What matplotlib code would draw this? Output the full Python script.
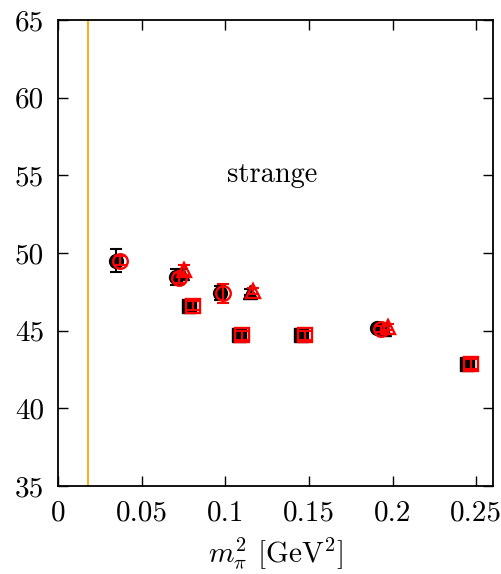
import matplotlib
matplotlib.use('Agg')
import matplotlib.pyplot as plt

plt.rcParams['font.family'] = 'serif'
plt.rcParams['font.serif'] = ['cmr10']
plt.rcParams['mathtext.fontset'] = 'cm'
plt.rcParams['axes.unicode_minus'] = False

# black filled (first set) and red open (second set)
circ_x_k = [0.0345, 0.0705, 0.0970, 0.1905]
circ_y_k = [49.50, 48.45, 47.40, 45.15]
circ_e_k = [0.75, 0.50, 0.45, 0.20]
circ_x_r = [0.0370, 0.0722, 0.0985, 0.1930]
circ_y_r = [49.50, 48.40, 47.40, 45.10]
circ_e_r = [0.30, 0.30, 0.60, 0.20]

sq_x_k = [0.0785, 0.1082, 0.1452, 0.2445]
sq_y_k = [46.60, 44.70, 44.70, 42.85]
sq_e_k = [0.30, 0.30, 0.30, 0.30]
sq_x_r = [0.0805, 0.1100, 0.1474, 0.2470]
sq_y_r = [46.60, 44.70, 44.70, 42.85]
sq_e_r = [0.30, 0.30, 0.30, 0.30]

tri_x_k = [0.0740, 0.1150, 0.1950]
tri_y_k = [48.70, 47.50, 45.10]
tri_e_k = [0.30, 0.20, 0.20]
tri_x_r = [0.0752, 0.1163, 0.1970]
tri_y_r = [48.90, 47.55, 45.25]
tri_e_r = [0.30, 0.20, 0.20]

phys_m2 = 0.018

xticks = [0, 0.05, 0.1, 0.15, 0.2, 0.25]
xtick_labels = ['0', '0.05', '0.1', '0.15', '0.2', '0.25']
yticks = [35, 40, 45, 50, 55, 60, 65]

fig = plt.figure(figsize=(5.02, 5.74), dpi=100)
ax = fig.add_axes([58 / 502, 1 - 486 / 574, (493 - 58) / 502, (486 - 20) / 574])

ax.axvline(phys_m2, color='#ffa500', lw=1.3, zorder=1)

kw_k = dict(fmt='none', ecolor='black', elinewidth=1.5, capsize=4, capthick=1.5, zorder=2)
kw_r = dict(fmt='none', ecolor='red', elinewidth=1.5, capsize=4, capthick=1.5, zorder=4)

ax.errorbar(circ_x_k, circ_y_k, yerr=circ_e_k, **kw_k)
ax.errorbar(sq_x_k, sq_y_k, yerr=sq_e_k, **kw_k)
ax.errorbar(tri_x_k, tri_y_k, yerr=tri_e_k, **kw_k)
ax.plot(circ_x_k, circ_y_k, 'o', color='black', ms=10, zorder=3, ls='none')
ax.plot(sq_x_k, sq_y_k, 's', color='black', ms=10, zorder=3, ls='none')
ax.plot(tri_x_k, tri_y_k, '^', color='black', ms=10, zorder=3, ls='none')

ax.errorbar(circ_x_r, circ_y_r, yerr=circ_e_r, **kw_r)
ax.errorbar(sq_x_r, sq_y_r, yerr=sq_e_r, **kw_r)
ax.errorbar(tri_x_r, tri_y_r, yerr=tri_e_r, **kw_r)
ax.plot(circ_x_r, circ_y_r, 'o', mfc='none', mec='red', mew=1.7, ms=10.5, zorder=5, ls='none')
ax.plot(sq_x_r, sq_y_r, 's', mfc='none', mec='red', mew=1.7, ms=10.5, zorder=5, ls='none')
ax.plot(tri_x_r, tri_y_r, '^', mfc='none', mec='red', mew=1.7, ms=10.5, zorder=5, ls='none')

ax.text(0.128, 55, 'strange', fontsize=20.5, ha='center', va='center')

ax.set_xlim(0, 0.26)
ax.set_ylim(35, 65)
ax.set_xticks(xticks)
ax.set_xticklabels(xtick_labels)
ax.set_yticks(yticks)
ax.tick_params(direction='in', length=7, width=1, top=True, right=True, labelsize=21, pad=10)
for s in ax.spines.values():
    s.set_linewidth(1.3)

ax.set_xlabel(r'$m_\pi^2$ [GeV$^2$]', fontsize=21, labelpad=7)

fig.savefig('out.png', dpi=100)
